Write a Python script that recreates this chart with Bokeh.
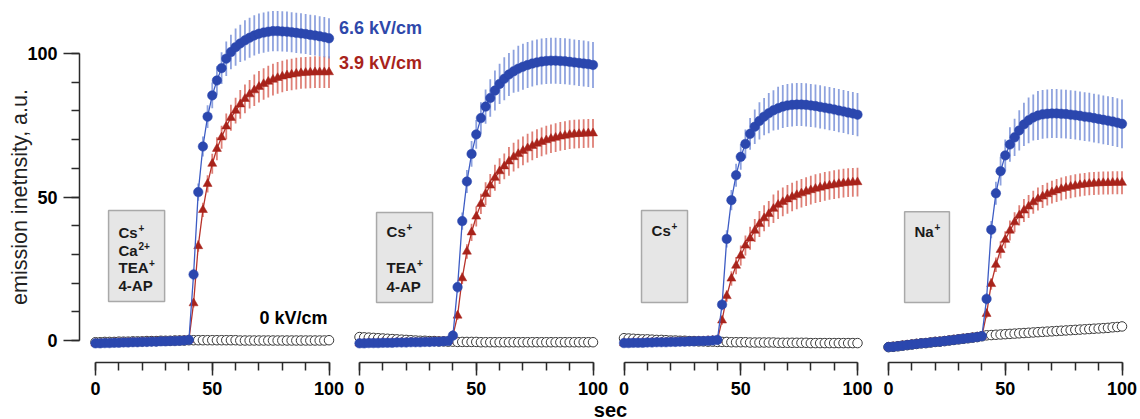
from bokeh.plotting import figure
from bokeh.models import Range1d, LinearAxis, SingleIntervalTicker, Label
from bokeh.embed import file_html
from bokeh.resources import INLINE

# ---------------- data ----------------
T = list(range(0, 101, 2))          # seconds, 51 samples
T_POST = list(range(42, 101, 2))    # 30 samples after the pulse

series_names = ["6.6 kV/cm", "3.9 kV/cm", "0 kV/cm"]
y_title = "emission inetnsity, a.u."
x_title = "sec"
# (text, superscript) per line of each condition box
box_texts = [
    [("Cs", "+"), ("Ca", "2+"), ("TEA", "+"), ("4-AP", "")],
    [("Cs", "+"), ("TEA", "+"), ("4-AP", "")],
    [("Cs", "+")],
    [("Na", "+")],
]

# panel 1
p1_base = [-1.0, -1.0, -0.9, -0.9, -0.8, -0.8, -0.7, -0.7, -0.6, -0.6, -0.5, -0.5, -0.4, -0.4, -0.3, -0.3, -0.2, -0.2, -0.1, 0.0, 0.2]
p1_blue = [23.0, 51.7, 67.6, 78.0, 85.4, 90.6, 94.9, 98.2, 100.5, 102.2, 103.5, 104.6, 105.5, 106.3, 106.9,
           107.3, 107.6, 107.8, 107.8, 107.7, 107.6, 107.4, 107.2, 107.0, 106.8, 106.5, 106.3, 106.0, 105.7, 105.3]
p1_red = [13.0, 32.9, 45.5, 54.6, 61.6, 66.8, 70.8, 74.6, 77.6, 80.1, 82.3, 84.2, 85.8, 87.2, 88.4,
          89.4, 90.2, 90.9, 91.5, 92.0, 92.4, 92.7, 93.0, 93.2, 93.3, 93.4, 93.5, 93.5, 93.5, 93.5]
p1_zero = [-0.6, -0.6, -0.5, -0.5, -0.5, -0.4, -0.4, -0.4, -0.3, -0.3, -0.3, -0.2, -0.2, -0.2, -0.1, -0.1, -0.1, 0.0, 0.0, 0.0, 0.1,
           0.1, 0.1, 0.1, 0.1, 0.1, 0.1, 0.1, 0.1, 0.1, 0.1, 0.0, 0.0, 0.0, 0.0, 0.0,
           0.0, 0.0, 0.0, 0.0, 0.0, 0.0, 0.0, 0.0, 0.0, 0.0, 0.0, 0.0, 0.0, 0.0, 0.1]
p1_blue_err = [2, 3, 3.5, 4, 4.5, 5, 5.5, 6, 6, 6.5, 6.5, 7, 7, 7, 7, 7, 7, 7, 7, 7, 7, 7, 7, 7, 7, 7, 7, 7, 7, 7]
p1_red_err = [1.5, 2, 2.5, 3, 3.5, 4, 4, 4.5, 4.5, 4.5, 5, 5, 5, 5.5, 5.5, 5.5, 5.5, 5.5, 5.5, 5.5,
              5.5, 5.5, 5.5, 5.5, 5.5, 5.5, 5.5, 5.5, 5.5, 5.5]

# panel 2
p2_base = [-1.0, -1.0, -0.9, -0.9, -0.9, -0.8, -0.8, -0.8, -0.7, -0.7, -0.7, -0.6, -0.6, -0.6, -0.5, -0.5, -0.4, -0.4, -0.3, -0.2, 1.7]
p2_blue = [18.6, 41.6, 55.4, 65.0, 71.8, 77.5, 81.5, 84.5, 87.1, 89.4, 91.2, 92.7, 93.8, 94.7, 95.4,
           96.0, 96.5, 96.9, 97.2, 97.4, 97.5, 97.5, 97.4, 97.3, 97.1, 96.9, 96.7, 96.5, 96.3, 96.0]
p2_red = [8.7, 21.7, 31.0, 37.7, 43.2, 47.6, 51.1, 54.0, 56.7, 59.0, 60.7, 62.4, 63.9, 65.0, 66.1,
          67.0, 67.8, 68.6, 69.2, 69.8, 70.3, 70.7, 71.1, 71.4, 71.7, 71.9, 72.0, 72.1, 72.2, 72.2]
p2_zero = [1.2, 1.1, 1.0, 0.9, 0.8, 0.7, 0.6, 0.5, 0.4, 0.3, 0.2, 0.1, 0.0, -0.1, -0.1, -0.2, -0.2, -0.3, -0.3, -0.4, -0.4,
           -0.5, -0.5, -0.5, -0.5, -0.5, -0.6, -0.6, -0.6, -0.6, -0.6, -0.6, -0.6, -0.6, -0.6, -0.6,
           -0.6, -0.6, -0.6, -0.6, -0.6, -0.6, -0.6, -0.6, -0.6, -0.6, -0.6, -0.6, -0.6, -0.6, -0.6]
p2_blue_err = [2, 3, 4, 4.5, 5, 5.5, 6, 6.5, 7, 7, 7.5, 7.5, 7.5, 8, 8, 8, 8, 8, 8, 8, 8, 8, 8, 8, 8, 8, 8, 8, 8, 8]
p2_red_err = [1.5, 2, 2.5, 3, 3.5, 3.5, 4, 4, 4.5, 4.5, 4.5, 5, 5, 5, 5, 5, 5, 5, 5, 5, 5, 5, 5, 5, 5, 5, 5, 5, 5, 5]

# panel 3
p3_base = [-0.9, -0.9, -0.8, -0.8, -0.8, -0.7, -0.7, -0.6, -0.6, -0.6, -0.5, -0.5, -0.4, -0.4, -0.3, -0.3, -0.2, -0.2, -0.1, 0.0, 0.2]
p3_blue = [12.5, 35.4, 48.9, 57.6, 64.0, 68.5, 72.0, 74.5, 76.5, 78.0, 79.2, 80.2, 80.9, 81.5, 81.9,
           82.1, 82.2, 82.2, 82.1, 81.9, 81.7, 81.4, 81.1, 80.8, 80.5, 80.1, 79.8, 79.4, 79.1, 78.7]
p3_red = [7.0, 15.5, 21.6, 26.1, 29.6, 33.1, 35.6, 38.3, 40.6, 42.6, 44.1, 45.9, 47.3, 48.3, 49.2,
          50.0, 50.7, 51.3, 51.9, 52.4, 52.9, 53.3, 53.7, 54.0, 54.3, 54.6, 54.8, 55.0, 55.1, 55.2]
p3_zero = [0.8, 0.7, 0.6, 0.5, 0.4, 0.4, 0.3, 0.2, 0.2, 0.1, 0.0, 0.0, -0.1, -0.1, -0.2, -0.2, -0.3, -0.3, -0.4, -0.4, -0.5,
           -0.5, -0.5, -0.6, -0.6, -0.6, -0.6, -0.7, -0.7, -0.7, -0.7, -0.7, -0.7, -0.8, -0.8, -0.8,
           -0.8, -0.8, -0.8, -0.8, -0.9, -0.9, -0.9, -0.9, -0.9, -0.9, -0.9, -0.9, -0.9, -0.9, -0.9]
p3_blue_err = [2, 3, 3.5, 4, 4.5, 5, 5.5, 6, 6.5, 6.5, 7, 7, 7.5, 7.5, 7.5, 7.5, 7.5, 7.5, 7.5, 7.5,
               7.5, 7.5, 7.5, 7.5, 7.5, 7.5, 7.5, 7.5, 7.5, 7.5]
p3_red_err = [1.5, 2, 2.5, 3, 3.5, 3.5, 4, 4, 4.5, 4.5, 4.5, 5, 5, 5, 5, 5, 5, 5, 5, 5, 5, 5, 5, 5, 5, 5, 5, 5, 5, 5]

# panel 4
p4_base = [-2.3, -2.2, -2.0, -1.8, -1.6, -1.4, -1.2, -1.0, -0.9, -0.7, -0.5, -0.4, -0.2, 0.0, 0.2, 0.4, 0.6, 0.8, 1.0, 1.2, 1.5]
p4_blue = [14.5, 38.6, 51.3, 59.0, 64.5, 68.3, 70.8, 73.2, 75.3, 76.7, 77.7, 78.4, 78.8, 79.0, 79.1,
           79.1, 79.0, 78.9, 78.7, 78.5, 78.3, 78.0, 77.8, 77.5, 77.2, 76.9, 76.6, 76.3, 75.9, 75.5]
p4_red = [9.3, 19.7, 26.4, 31.6, 35.1, 38.3, 41.2, 43.6, 45.3, 46.7, 48.2, 49.3, 50.2, 51.0, 51.7,
          52.3, 52.8, 53.2, 53.6, 53.9, 54.2, 54.4, 54.6, 54.7, 54.8, 54.9, 54.9, 55.0, 55.0, 55.0]
p4_zero = [-2.3, -2.2, -2.0, -1.8, -1.6, -1.4, -1.2, -1.0, -0.9, -0.7, -0.5, -0.4, -0.2, 0.0, 0.2, 0.4, 0.6, 0.8, 1.0, 1.2, 1.5,
           1.8, 1.9, 2.0, 2.1, 2.2, 2.3, 2.4, 2.5, 2.6, 2.7, 2.8, 2.9, 3.0, 3.1, 3.2,
           3.3, 3.4, 3.5, 3.6, 3.7, 3.8, 3.9, 4.0, 4.1, 4.2, 4.3, 4.4, 4.6, 4.7, 4.9]
p4_blue_err = [2, 3, 4, 5, 5.5, 6, 6.5, 7, 7.5, 8, 8, 8.5, 8.5, 8.5, 8.5, 8.5, 8.5, 8.5, 8.5, 8.5,
               8.5, 8.5, 8.5, 8.5, 8.5, 8.5, 8.5, 8.5, 8.5, 8.5]
p4_red_err = [1.5, 2, 2.5, 3, 3, 3.5, 3.5, 3.5, 4, 4, 4, 4, 4, 4, 4, 4, 4, 4, 4, 4, 4, 4, 4, 4, 4, 4, 4, 4, 4, 4]

panels = [
    dict(base=p1_base, blue=p1_blue, red=p1_red, zero=p1_zero, berr=p1_blue_err, rerr=p1_red_err),
    dict(base=p2_base, blue=p2_blue, red=p2_red, zero=p2_zero, berr=p2_blue_err, rerr=p2_red_err),
    dict(base=p3_base, blue=p3_blue, red=p3_red, zero=p3_zero, berr=p3_blue_err, rerr=p3_red_err),
    dict(base=p4_base, blue=p4_blue, red=p4_red, zero=p4_zero, berr=p4_blue_err, rerr=p4_red_err),
]

# ---------------- layout (pixels) ----------------
PX0 = [95, 359, 623.5, 888]     # pixel where t=0 sits in each panel
SX = 2.335                      # pixels per second
FRAME_L, FRAME_R = 0, 1140
YAXIS_PX = 79
Y0_PX, SY = 340, 2.87           # pixel of y=0, pixels per unit
TOP_PX, BOT_PX = 0, 419
XAXIS_PX = 362

def yv(px):
    return (Y0_PX - px) / SY

def xv(px, k=0):
    return (px - PX0[k]) / SX

def xr(k):
    return Range1d((FRAME_L - PX0[k]) / SX, (FRAME_R - PX0[k]) / SX)

BLUE = "#2b47ae"
BLUE_BAR = "#7a92d8"
BLUE_LINE = "#3d5cc4"
RED = "#a8231b"
RED_BAR = "#d8685e"
RED_LINE = "#b8322a"
AX = "#2a2a2a"
FONT = "Liberation Sans"

p = figure(width=FRAME_R, height=BOT_PX - TOP_PX, output_backend="svg", toolbar_location=None,
           x_axis_location=None, y_axis_location=None, x_range=xr(0), y_range=Range1d(yv(BOT_PX), yv(TOP_PX)),
           min_border_left=0, min_border_right=0, min_border_top=0, min_border_bottom=0)
p.outline_line_color = None
p.background_fill_color = "white"
p.border_fill_color = "white"

names = ["default", "p2", "p3", "p4"]
for k in range(1, 4):
    p.extra_x_ranges[names[k]] = xr(k)

def style_axis(ax, tick_out, minor_out):
    ax.major_tick_out = tick_out
    ax.major_tick_in = 0
    ax.minor_tick_out = minor_out
    ax.minor_tick_in = 0
    ax.axis_line_width = 1.5
    ax.axis_line_color = AX
    ax.major_tick_line_color = AX
    ax.minor_tick_line_color = AX
    ax.major_tick_line_width = 1.5
    ax.minor_tick_line_width = 1.5
    ax.major_label_text_font = FONT
    ax.major_label_text_font_style = "bold"
    ax.major_label_text_font_size = "18px"
    ax.major_label_text_color = "black"
    ax.major_label_standoff = 6

# y axis (fixed at the left edge of panel 1)
ya = LinearAxis(fixed_location=xv(YAXIS_PX), bounds=(0, 100),
                ticker=SingleIntervalTicker(interval=50, num_minor_ticks=5))
style_axis(ya, 16, 8)
p.add_layout(ya, "left")

# y axis title
p.add_layout(Label(x=xv(19.5), y=yv(196.5), text=y_title, angle=90, angle_units="deg",
                   text_font=FONT, text_font_size="21.5px", text_color="#222222",
                   text_align="center", text_baseline="middle"))

# x axes, one per panel
for k in range(4):
    ax = LinearAxis(x_range_name=names[k], fixed_location=yv(XAXIS_PX), bounds=(0, 100),
                    ticker=SingleIntervalTicker(interval=50, num_minor_ticks=5))
    style_axis(ax, 13, 8)
    p.add_layout(ax, "below")

p.grid.visible = False

# condition boxes (data units of each panel)
box_x = [(5.6, 29.6), (7.3, 31.3), (7.5, 27.2), (6.9, 26.1)]
box_y = [(13.6, 45.3), (13.2, 44.6), (13.2, 45.3), (13.2, 44.9)]
text_x = [9.85, 11.6, 11.8, 11.1]
line_px = [[232, 249.5, 267, 284.5], [231, 267, 285.5], [230], [231]]
base_w = {"Cs": 19.5, "Ca": 19.5, "TEA": 30.0, "Na": 19.5, "4-AP": 34.0}
for k in range(4):
    p.quad(left=[box_x[k][0]], right=[box_x[k][1]], bottom=[box_y[k][0]], top=[box_y[k][1]],
           x_range_name=names[k], fill_color="#e6e6e6", line_color="#a9a9a9", line_width=1.5)
    for i, (s, sup) in enumerate(box_texts[k]):
        lp = line_px[k][i]
        p.add_layout(Label(x=text_x[k], y=yv(lp), x_range_name=names[k], text=s,
                           text_font=FONT, text_font_style="bold", text_font_size="15px",
                           text_color="#1a1a1a", text_baseline="middle", text_align="left"))
        if sup:
            p.add_layout(Label(x=text_x[k], y=yv(lp - 4.5), x_offset=base_w[s] + 0.5, x_range_name=names[k],
                               text=sup, text_font=FONT, text_font_style="bold", text_font_size="10px",
                               text_color="#1a1a1a", text_baseline="middle", text_align="left"))

# data
for k, d in enumerate(panels):
    rn = names[k]
    blue = d["base"] + d["blue"]
    red = d["base"] + d["red"]
    zero = d["zero"]
    # open circles (0 kV/cm)
    p.scatter(T, zero, x_range_name=rn, marker="circle", size=9.5,
              fill_color="white", line_color="#3a3a3a", line_width=1)
    # error bars
    r_lo = [v - e for v, e in zip(d["red"], d["rerr"])]
    r_hi = [v + e for v, e in zip(d["red"], d["rerr"])]
    b_lo = [v - e for v, e in zip(d["blue"], d["berr"])]
    b_hi = [v + e for v, e in zip(d["blue"], d["berr"])]
    p.segment(x0=T_POST, y0=r_lo, x1=T_POST, y1=r_hi, x_range_name=rn,
              line_color=RED_BAR, line_width=1.8, line_alpha=0.85)
    p.segment(x0=T_POST, y0=b_lo, x1=T_POST, y1=b_hi, x_range_name=rn,
              line_color=BLUE_BAR, line_width=1.8, line_alpha=0.85)
    # 3.9 kV/cm
    p.line(T, red, x_range_name=rn, line_color=RED_LINE, line_width=1.3)
    p.scatter(T, red, x_range_name=rn, marker="triangle", size=9,
              fill_color=RED, line_color=RED, line_width=0.5)
    # 6.6 kV/cm
    p.line(T, blue, x_range_name=rn, line_color=BLUE_LINE, line_width=1.3)
    p.scatter(T, blue, x_range_name=rn, marker="circle", size=9.5,
              fill_color=BLUE, line_color=BLUE, line_width=0.5)

# series labels (panel 1 coordinates)
p.add_layout(Label(x=xv(338.5), y=yv(27.5), text=series_names[0], text_font=FONT, text_font_style="bold",
                   text_font_size="18px", text_color="#2e48aa", text_baseline="middle", text_align="left"))
p.add_layout(Label(x=xv(338.5), y=yv(62.5), text=series_names[1], text_font=FONT, text_font_style="bold",
                   text_font_size="18px", text_color=RED, text_baseline="middle", text_align="left"))
p.add_layout(Label(x=xv(327), y=yv(317), text=series_names[2], text_font=FONT, text_font_style="bold",
                   text_font_size="18px", text_color="black", text_baseline="middle", text_align="right"))

# x axis title
p.add_layout(Label(x=xv(610), y=yv(409), text=x_title, text_font=FONT, text_font_style="bold",
                   text_font_size="20px", text_color="black", text_baseline="alphabetic", text_align="center"))

open("out.html", "w").write(file_html(p, INLINE))
